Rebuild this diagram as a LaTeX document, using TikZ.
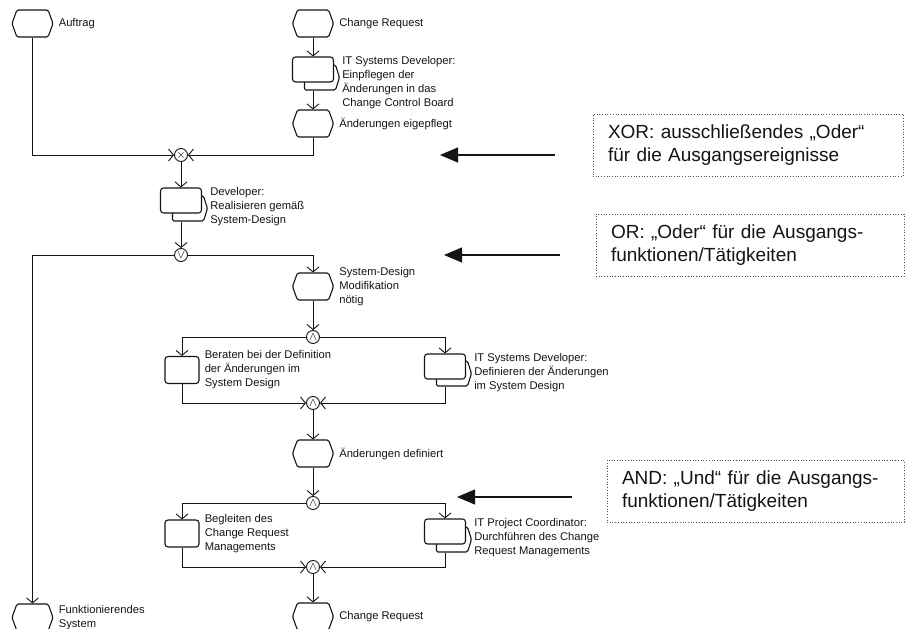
\documentclass[tikz,border=0pt]{standalone}
\usepackage{fontspec}
\setmainfont{Liberation Sans}
\usetikzlibrary{arrows.meta,shapes.symbols,positioning,calc,backgrounds}
\definecolor{epcblack}{RGB}{20,20,20}
\definecolor{notegray}{RGB}{80,80,80}
\tikzstyle{flow} = [line width=0.9pt,color=epcblack,-{Straight Barb[length=5pt,width=12pt]}]
\tikzstyle{hint} = [line width=1.1pt,color=epcblack,-{Triangle[length=18pt,width=15pt]}]
\tikzstyle{event} = [signal, signal to=east and west, signal pointer angle=140, draw=epcblack, fill=white, line width=1.1pt, rounded corners=1.5pt, minimum width=41pt, minimum height=27pt, inner sep=0pt]
\tikzstyle{func} = [rectangle, rounded corners=3pt, draw=epcblack, fill=white, line width=1.1pt, minimum width=41pt, minimum height=25pt, inner sep=0pt]
\tikzstyle{funcback} = [signal, signal to=east, signal pointer angle=145, draw=epcblack, fill=white, line width=1.1pt, rounded corners=1.5pt, minimum width=35pt, minimum height=25pt, inner sep=0pt]
\tikzstyle{conn} = [circle, draw=epcblack, fill=white, line width=0.9pt, minimum size=13pt, inner sep=0pt, font=\fontsize{12}{12}\selectfont]
\tikzstyle{txt} = [align=left, inner sep=0pt, text=epcblack, font=\fontsize{11.2}{14}\selectfont]
\tikzstyle{note} = [rectangle, draw=notegray, dotted, line width=0.7pt, minimum height=62pt, inner xsep=15pt, inner ysep=0pt, align=left, text=epcblack, font=\fontsize{19}{22.5}\selectfont]

\begin{document}
\begin{tikzpicture}[x=1pt,y=-1pt]
\useasboundingbox (0,0) rectangle (906,629);
% Events
\node[event] (eauf) at (32.5,23.5) {};
\node[event] (ecr1) at (313,23.5) {};
\node[event] (eeing) at (313,123.5) {};
\node[event] (esdm) at (313,286.5) {};
\node[event] (edef) at (313,453.5) {};
\node[event] (ecr2) at (313,616.5) {};
\node[event] (efunk) at (32.5,617.5) {};
\node[txt, right=5pt of eauf] (teauf) {Auftrag};
\node[txt, right=5pt of ecr1] (tecr1) {Change Request};
\node[txt, right=5pt of eeing] (teeing) {Änderungen eigepflegt};
\node[txt, right=5pt of esdm] (tesdm) {System-Design\\Modifikation\\nötig};
\node[txt, right=5pt of edef] (tedef) {Änderungen definiert};
\node[txt, right=5pt of ecr2] (tecr2) {Change Request};
\node[txt, right=5pt of efunk] (tefunk) {Funktionierendes\\System};
% Functions
\node[func] (feinp) at (313,69.5) {};
\node[func] (fdev) at (181,200.5) {};
\node[func, minimum width=34pt, minimum height=27pt] (fberat) at (182,370) {};
\node[func] (fdefin) at (445,366.5) {};
\node[func, minimum width=34pt, minimum height=27pt] (fbegl) at (182,533.5) {};
\node[func] (fdurch) at (445,531.5) {};
\begin{scope}[on background layer]
\node[funcback] (feinpb) at ($(feinp)+(7,8)$) {};
\node[funcback] (fdevb) at ($(fdev)+(7,8)$) {};
\node[funcback] (fdefinb) at ($(fdefin)+(7,7)$) {};
\node[funcback] (fdurchb) at ($(fdurch)+(7,8)$) {};
\end{scope}
\node[txt, right=8pt of feinp.north east, anchor=north west] (tfeinp) {IT Systems Developer:\\Einpflegen der\\Änderungen in das\\Change Control Board};
\node[txt, right=8pt of fdev.north east, anchor=north west] (tfdev) {Developer:\\Realisieren gemäß\\System-Design};
\node[txt, right=5pt of fberat] (tfberat) {Beraten bei der Definition\\der Änderungen im\\System Design};
\node[txt, right=8pt of fdefin.north east, anchor=north west] (tfdefin) {IT Systems Developer:\\Definieren der Änderungen\\im System Design};
\node[txt, right=5pt of fbegl] (tfbegl) {Begleiten des\\Change Request\\Managements};
\node[txt, right=8pt of fdurch.north east, anchor=north west] (tfdurch) {IT Project Coordinator:\\Durchführen des Change\\Request Managements};
% Connectors
\node[conn] (xor) at (181,155) {$\times$};
\node[conn] (or) at (181,255) {$\vee$};
\node[conn] (and1) at (313,337) {$\wedge$};
\node[conn] (and2) at (313,403) {$\wedge$};
\node[conn] (and3) at (313,503) {$\wedge$};
\node[conn] (and4) at (313,567) {$\wedge$};
% Flow
\draw[flow] (ecr1) -- (feinp);
\draw[flow] (feinpb.south -| feinp) -- (eeing);
\draw[flow] (eauf) |- (xor);
\draw[flow] (eeing) |- (xor);
\draw[flow] (xor) -- (fdev);
\draw[flow] (fdevb.south -| fdev) -- (or);
\draw[flow] (or) -| (efunk);
\draw[flow] (or) -| (esdm);
\draw[flow] (esdm) -- (and1);
\draw[flow] (and1) -| (fberat);
\draw[flow] (and1) -| (fdefin);
\draw[flow] (fberat) |- (and2);
\draw[flow] (fdefinb.south -| fdefin) |- (and2);
\draw[flow] (and2) -- (edef);
\draw[flow] (edef) -- (and3);
\draw[flow] (and3) -| (fbegl);
\draw[flow] (and3) -| (fdurch);
\draw[flow] (fbegl) |- (and4);
\draw[flow] (fdurchb.south -| fdurch) |- (and4);
\draw[flow] (and4) -- (ecr2);
% Notes
\node[note, text width=280pt] (nxor) at (748,145) {XOR: ausschließendes „Oder“\\für die Ausgangsereignisse};
\node[note, text width=278pt] (nor) at (750,245) {OR: „Oder“ für die Ausgangs-\\funktionen/Tätigkeiten};
\node[note, text width=267pt] (nand) at (755.5,491) {AND: „Und“ für die Ausgangs-\\funktionen/Tätigkeiten};
\coordinate (axors) at (555,155);
\coordinate (axore) at (440,155);
\coordinate (aors) at (560,255);
\coordinate (aore) at (444,255);
\coordinate (aands) at (572,497);
\coordinate (aande) at (457,497);
\draw[hint] (axors) -- (axore);
\draw[hint] (aors) -- (aore);
\draw[hint] (aands) -- (aande);
\end{tikzpicture}
\end{document}
